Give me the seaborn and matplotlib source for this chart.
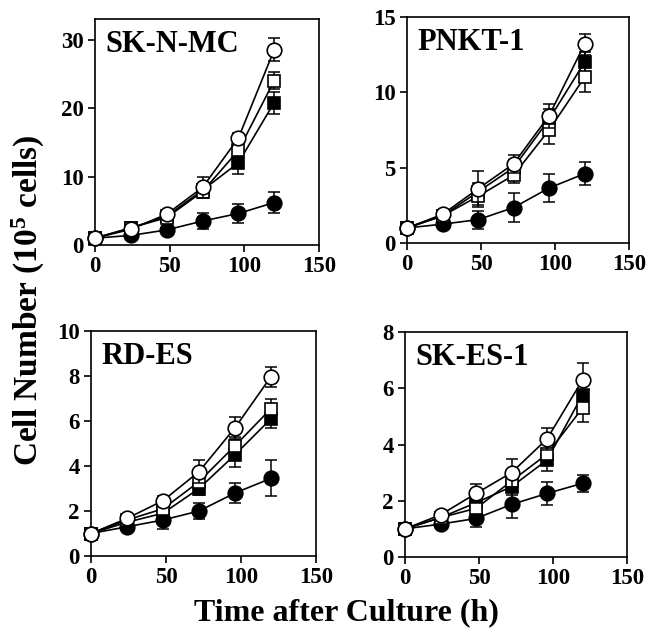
import numpy as np
import pandas as pd
import matplotlib
matplotlib.use("Agg")
import matplotlib.pyplot as plt
import seaborn as sns

time_h = [0, 24, 48, 72, 96, 120]
panel_names = ["SK-N-MC", "PNKT-1", "RD-ES", "SK-ES-1"]
y_max = [33, 15, 10, 8]
y_ticks = [[0, 10, 20, 30], [0, 5, 10, 15], [0, 2, 4, 6, 8, 10], [0, 2, 4, 6, 8]]
x_ticks = [0, 50, 100, 150]

# series: filled circle, filled square, open square, open circle
skn_fc = [1, 1.4, 2.2, 3.5, 4.6, 6.2]
skn_fc_err = [0, 0.3, 0.4, 1.2, 1.4, 1.6]
skn_fs = [1, 2.5, 4.2, 8.0, 12.0, 20.8]
skn_fs_err = [0, 0.3, 0.4, 0.6, 1.6, 1.6]
skn_os = [1, 2.5, 4.0, 7.8, 13.8, 24.0]
skn_os_err = [0, 0.3, 0.4, 0.6, 1.5, 1.2]
skn_oc = [1, 2.3, 4.5, 8.4, 15.6, 28.5]
skn_oc_err = [0, 0.3, 0.5, 1.5, 0.8, 1.7]

pnk_fc = [1, 1.25, 1.55, 2.35, 3.65, 4.6]
pnk_fc_err = [0, 0.15, 0.6, 0.95, 0.9, 0.75]
pnk_fs = [1, 1.8, 3.4, 5.0, 8.2, 12.0]
pnk_fs_err = [0, 0.2, 0.6, 0.5, 0.7, 0.7]
pnk_os = [1, 1.8, 3.1, 4.5, 7.5, 11.0]
pnk_os_err = [0, 0.2, 0.6, 0.5, 0.9, 1.0]
pnk_oc = [1, 1.9, 3.6, 5.25, 8.45, 13.2]
pnk_oc_err = [0, 0.2, 1.2, 0.6, 0.8, 0.7]

rde_fc = [1, 1.3, 1.6, 2.0, 2.8, 3.45]
rde_fc_err = [0, 0.1, 0.4, 0.35, 0.45, 0.8]
rde_fs = [1, 1.5, 1.9, 3.0, 4.5, 6.1]
rde_fs_err = [0, 0.1, 0.2, 0.3, 0.55, 0.4]
rde_os = [1, 1.6, 2.1, 3.3, 4.9, 6.55]
rde_os_err = [0, 0.1, 0.2, 0.3, 0.4, 0.45]
rde_oc = [1, 1.67, 2.46, 3.75, 5.7, 7.97]
rde_oc_err = [0, 0.1, 0.2, 0.5, 0.5, 0.45]

ske_fc = [1, 1.17, 1.37, 1.87, 2.26, 2.62]
ske_fc_err = [0, 0.1, 0.3, 0.5, 0.4, 0.3]
ske_fs = [1, 1.4, 1.93, 2.5, 3.45, 5.77]
ske_fs_err = [0, 0.1, 0.2, 0.3, 0.4, 0.5]
ske_os = [1, 1.4, 1.73, 2.7, 3.66, 5.3]
ske_os_err = [0, 0.1, 0.2, 0.3, 0.4, 0.5]
ske_oc = [1, 1.5, 2.26, 3.0, 4.2, 6.3]
ske_oc_err = [0, 0.1, 0.35, 0.5, 0.4, 0.6]

panels = [
    [(skn_fc, skn_fc_err), (skn_fs, skn_fs_err), (skn_os, skn_os_err), (skn_oc, skn_oc_err)],
    [(pnk_fc, pnk_fc_err), (pnk_fs, pnk_fs_err), (pnk_os, pnk_os_err), (pnk_oc, pnk_oc_err)],
    [(rde_fc, rde_fc_err), (rde_fs, rde_fs_err), (rde_os, rde_os_err), (rde_oc, rde_oc_err)],
    [(ske_fc, ske_fc_err), (ske_fs, ske_fs_err), (ske_os, ske_os_err), (ske_oc, ske_oc_err)],
]
styles = [
    dict(marker="o", markersize=10.5, markerfacecolor="black"),
    dict(marker="s", markersize=9, markerfacecolor="black"),
    dict(marker="s", markersize=9, markerfacecolor="white"),
    dict(marker="o", markersize=10.5, markerfacecolor="white"),
]

sns.set_style("ticks")
plt.rcParams["font.family"] = ["Liberation Serif", "DejaVu Serif"]
plt.rcParams["font.weight"] = "bold"
plt.rcParams["text.color"] = "black"
plt.rcParams["axes.labelcolor"] = "black"
plt.rcParams["xtick.color"] = "black"
plt.rcParams["ytick.color"] = "black"
plt.rcParams["mathtext.fontset"] = "custom"
plt.rcParams["mathtext.bf"] = "Liberation Serif:bold"
plt.rcParams["mathtext.rm"] = "Liberation Serif:bold"
plt.rcParams["mathtext.default"] = "bf"

W, H = 649, 639
fig = plt.figure(figsize=(W / 100, H / 100), dpi=100)
boxes = [(95, 319, 19, 245), (407, 629, 17, 243), (91, 316, 331, 556), (405, 627, 332, 557)]

for i, (l, r, t, b) in enumerate(boxes):
    ax = fig.add_axes([l / W, 1 - b / H, (r - l) / W, (b - t) / H])
    for k, (vals, errs) in enumerate(panels[i]):
        eb = ax.errorbar(time_h, vals, yerr=errs, fmt="none", ecolor="black",
                         elinewidth=1.1, capsize=4, capthick=1.1, zorder=2 + k * 2)
        df = pd.DataFrame({"t": time_h, "v": vals})
        sns.lineplot(data=df, x="t", y="v", ax=ax, color="black", linewidth=1.2,
                     markeredgecolor="black", markeredgewidth=1.2,
                     zorder=3 + k * 2, clip_on=False, **styles[k])
    ax.set_xlim(0, 150)
    ax.set_ylim(0, y_max[i])
    ax.set_xticks(x_ticks)
    ax.set_yticks(y_ticks[i])
    ax.set_xlabel("")
    ax.set_ylabel("")
    for s in ax.spines.values():
        s.set_linewidth(1.2)
        s.set_color("black")
        s.set_zorder(1)
    ax.tick_params(direction="out", length=5, width=1.2, labelsize=16.5, pad=3,
                   colors="black")
    for lab in ax.get_xticklabels() + ax.get_yticklabels():
        lab.set_fontweight("bold")
    ax.text(0.045, 0.95, panel_names[i], transform=ax.transAxes, ha="left", va="top",
            fontsize=22, fontweight="bold", color="black")

fig.text(28 / W, 1 - 300 / H, "Cell Number (10$^{5}$ cells)", rotation=90,
         ha="center", va="center", fontsize=24, fontweight="bold", color="black")
fig.text(346 / W, 1 - 613 / H, "Time after Culture (h)", ha="center", va="center",
         fontsize=23, fontweight="bold", color="black")

fig.savefig("out.png", dpi=100)
